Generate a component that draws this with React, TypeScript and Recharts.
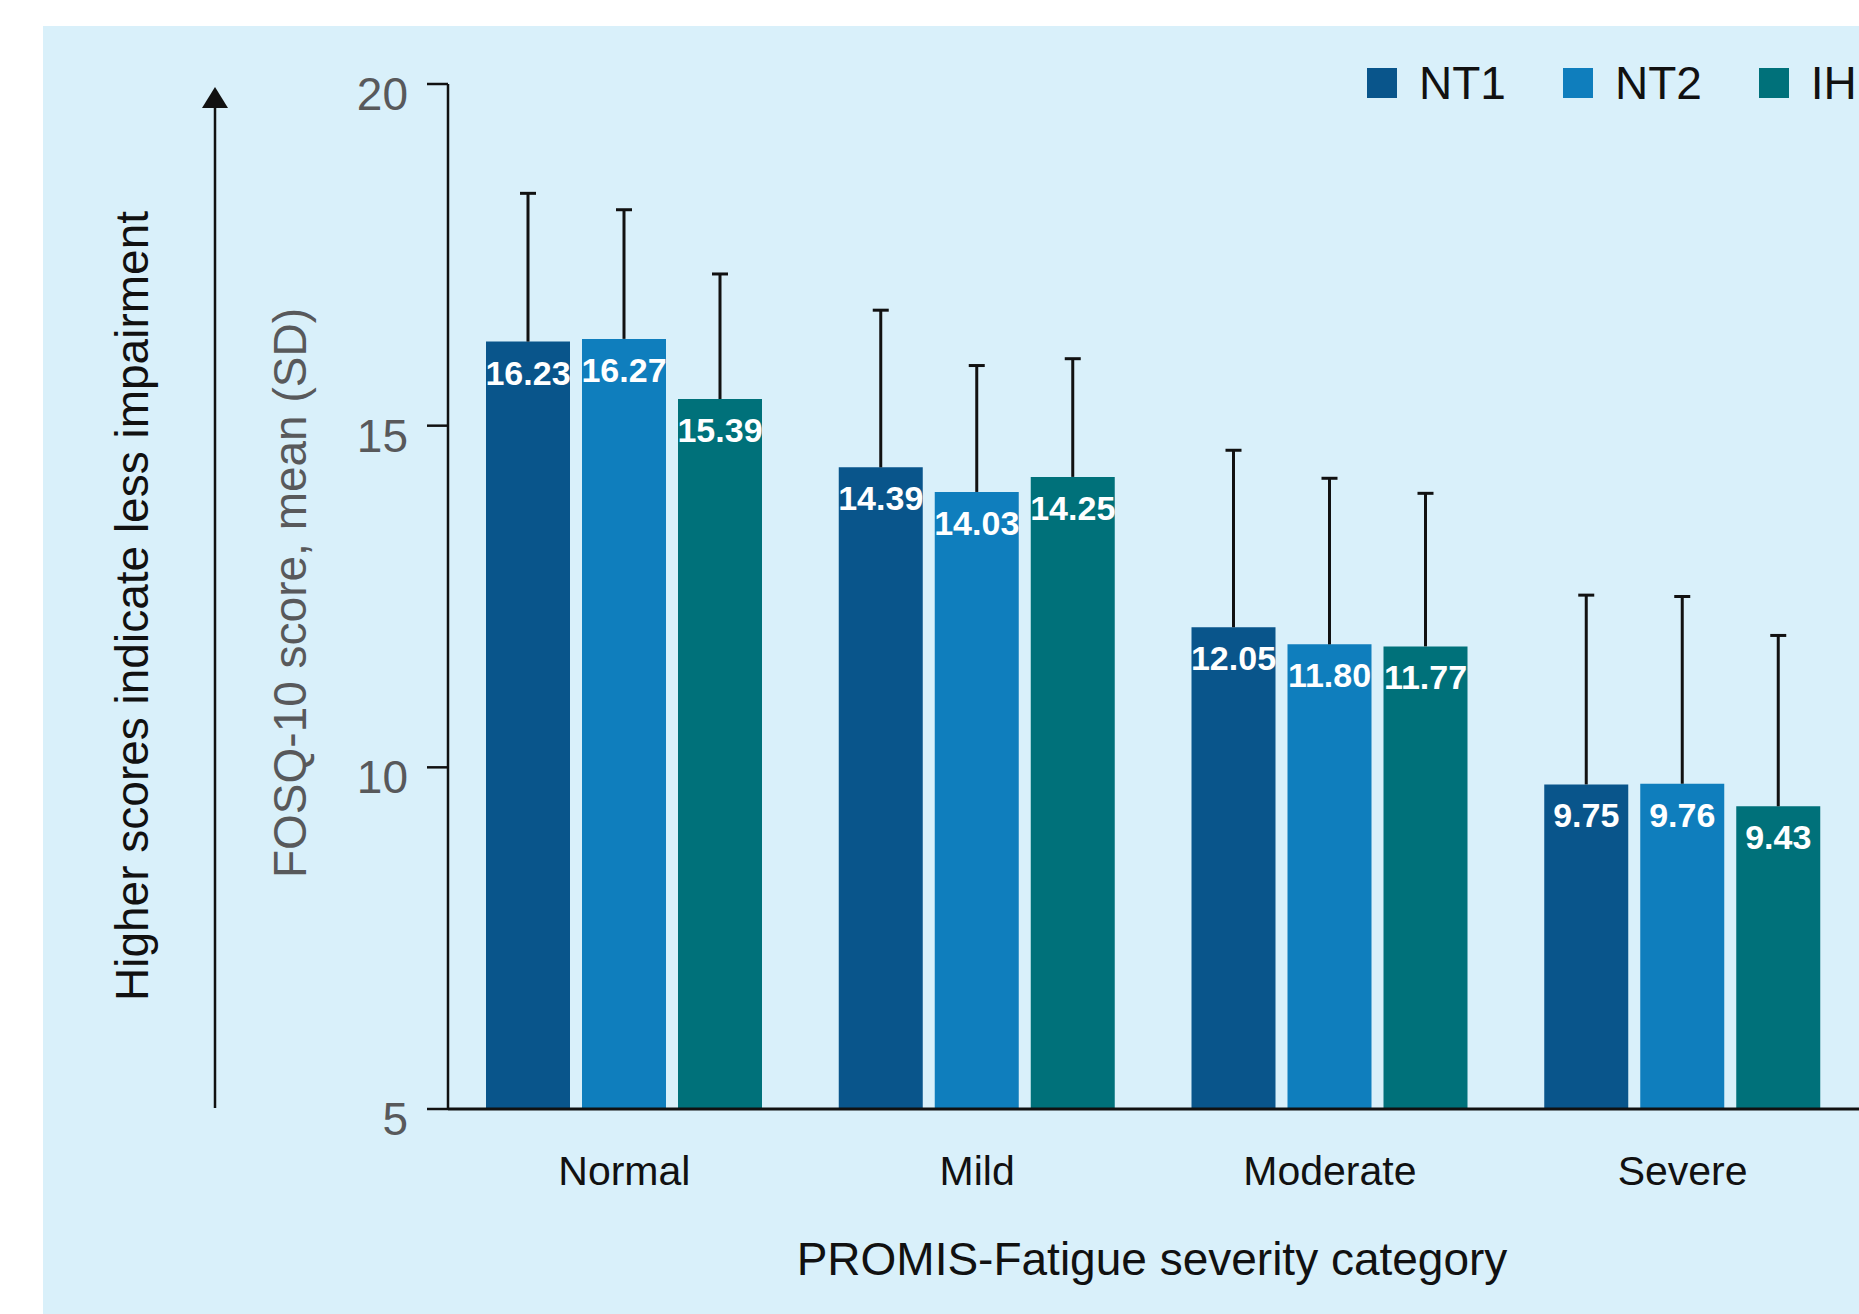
import React from "react";
import { BarChart, Bar, XAxis, YAxis, Legend, LabelList } from "recharts";

// Data
const categories = ["Normal", "Mild", "Moderate", "Severe"];
const nt1Mean = [16.23, 14.39, 12.05, 9.75];
const nt2Mean = [16.27, 14.03, 11.8, 9.76];
const ihMean = [15.39, 14.25, 11.77, 9.43];
const nt1Sd = [2.17, 2.3, 2.59, 2.77];
const nt2Sd = [1.89, 1.85, 2.43, 2.74];
const ihSd = [1.83, 1.73, 2.24, 2.5];
const yTicks = [5, 10, 15, 20];

const series = [
  { key: "nt1", sdKey: "nt1Sd", name: "NT1", color: "#09558B" },
  { key: "nt2", sdKey: "nt2Sd", name: "NT2", color: "#0F7EBD" },
  { key: "ih", sdKey: "ihSd", name: "IH", color: "#00717A" },
];

const data = categories.map((category, i) => ({
  category,
  nt1: nt1Mean[i],
  nt1Sd: nt1Sd[i],
  nt2: nt2Mean[i],
  nt2Sd: nt2Sd[i],
  ih: ihMean[i],
  ihSd: ihSd[i],
}));

const FONT = "'Liberation Sans', Arial, Helvetica, sans-serif";
const INK = "#111111";

// upward-only SD whisker, drawn as a stacked transparent bar
function SdWhisker(props: any) {
  const { x, y, width, height } = props;
  if (x == null || y == null) return null;
  const cx = x + width / 2;
  return (
    <g>
      <line x1={cx} x2={cx} y1={y} y2={y + height} stroke={INK} strokeWidth={3} />
      <line x1={cx - 8} x2={cx + 8} y1={y} y2={y} stroke={INK} strokeWidth={3} />
    </g>
  );
}

function ValueLabel(props: any) {
  const { x, y, width, value } = props;
  return (
    <text
      x={x + width / 2}
      y={y + 43}
      textAnchor="middle"
      fill="#FFFFFF"
      fontSize={34}
      fontWeight={700}
    >
      {Number(value).toFixed(2)}
    </text>
  );
}

function YTick(props: any) {
  const { x, y, payload } = props;
  return (
    <text x={x} y={y + 26} textAnchor="end" fill="#58595B" fontSize={46}>
      {payload.value}
    </text>
  );
}

function XTick(props: any) {
  const { x, y, payload } = props;
  return (
    <text x={x} y={y + 76} textAnchor="middle" fill={INK} fontSize={41}>
      {payload.value}
    </text>
  );
}

function LegendRow() {
  return (
    <div style={{ display: "flex", alignItems: "center", height: 46, whiteSpace: "nowrap" }}>
      {series.map((s) => (
        <div key={s.key} style={{ display: "flex", alignItems: "center", marginRight: 57 }}>
          <span style={{ width: 30, height: 30, background: s.color, marginRight: 22 }} />
          <span style={{ fontSize: 46, lineHeight: "46px", color: INK }}>{s.name}</span>
        </div>
      ))}
    </div>
  );
}

export default function App() {
  return (
    <div
      style={{
        position: "absolute",
        left: 0,
        top: 0,
        width: 1859,
        height: 1314,
        background: "#FFFFFF",
        overflow: "hidden",
        fontFamily: FONT,
      }}
    >
      {/* light blue panel */}
      <div style={{ position: "absolute", left: 43, top: 26, right: 0, bottom: 0, background: "#D9F0FA" }} />

      {/* arrow + axis titles */}
      <svg width={1859} height={1314} style={{ position: "absolute", left: 0, top: 0 }}>
        <line x1={215} x2={215} y1={106} y2={1108} stroke={INK} strokeWidth={2.5} />
        <polygon points="202,108 228,108 215,87" fill={INK} />
        <text transform="translate(148,606) rotate(-90)" textAnchor="middle" fontSize={46} fill={INK}>
          Higher scores indicate less impairment
        </text>
        <text transform="translate(306,593) rotate(-90)" textAnchor="middle" fontSize={46} fill="#58595B">
          FOSQ-10 score, mean (SD)
        </text>
        <text x={1152} y={1275} textAnchor="middle" fontSize={46} fill={INK}>
          PROMIS-Fatigue severity category
        </text>
      </svg>

      <div style={{ position: "absolute", left: 0, top: 0 }}>
        <BarChart
          width={1859}
          height={1314}
          data={data}
          margin={{ top: 84, right: 0, bottom: 105, left: 0 }}
          barSize={84}
          barGap={12}
        >
          <XAxis
            dataKey="category"
            height={100}
            tickSize={0}
            tickMargin={0}
            tickLine={false}
            axisLine={{ stroke: INK, strokeWidth: 3 }}
            tick={(p: any) => <XTick {...p} />}
            interval={0}
          />
          <YAxis
            width={448}
            type="number"
            domain={[5, 20]}
            ticks={yTicks}
            interval={0}
            allowDataOverflow
            tickSize={21}
            tickMargin={19}
            axisLine={{ stroke: INK, strokeWidth: 2.5 }}
            tickLine={{ stroke: INK, strokeWidth: 2.5 }}
            tick={(p: any) => <YTick {...p} />}
          />
          <Legend
            layout="vertical"
            align="center"
            verticalAlign="middle"
            wrapperStyle={{ top: 60, left: 1367, width: 700 }}
            content={() => <LegendRow />}
          />
          {series.flatMap((s) => [
            <Bar
              key={s.key}
              dataKey={s.key}
              name={s.name}
              stackId={s.key}
              fill={s.color}
              isAnimationActive={false}
            >
              <LabelList dataKey={s.key} content={(p: any) => <ValueLabel {...p} />} />
            </Bar>,
            <Bar
              key={s.sdKey}
              dataKey={s.sdKey}
              stackId={s.key}
              fill="none"
              legendType="none"
              shape={(p: any) => <SdWhisker {...p} />}
              isAnimationActive={false}
            />,
          ])}
        </BarChart>
      </div>
    </div>
  );
}
